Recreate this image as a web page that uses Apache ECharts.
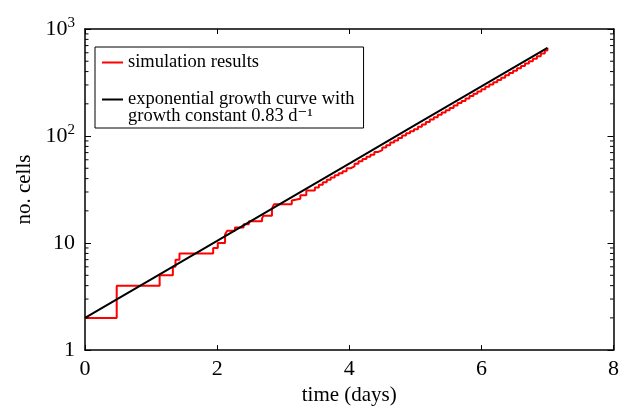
<!DOCTYPE html>
<html>
<head>
<meta charset="utf-8">
<script src="https://cdn.jsdelivr.net/npm/echarts@6/dist/echarts.min.js"></script>
<style>
  html, body { margin: 0; padding: 0; background: #fff; }
  #main { width: 622px; height: 411px; }
</style>
</head>
<body>
<div id="main"></div>
<script>
// 模拟结果：每次跳变的时间（天）与细胞数
var simTime = [0, 0.48, 1.13, 1.33, 1.37, 1.43, 1.94, 2.01, 2.12, 2.15, 2.27, 2.40, 2.48, 2.68, 2.70, 2.83, 2.86,
    3.13, 3.16, 3.26, 3.35, 3.48, 3.54,
    3.60, 3.66, 3.72, 3.78, 3.84, 3.90, 3.96, 4.02, 4.08, 4.14, 4.20, 4.26, 4.32, 4.38, 4.44, 4.50,
    4.56, 4.62, 4.68, 4.74, 4.80, 4.86, 4.92, 4.98, 5.04, 5.10, 5.16, 5.22, 5.28, 5.34, 5.40, 5.46,
    5.52, 5.58, 5.64, 5.70, 5.76, 5.82, 5.88, 5.94, 6.00, 6.06, 6.12, 6.18, 6.24, 6.30, 6.36, 6.42,
    6.48, 6.54, 6.60, 6.66, 6.72, 6.78, 6.84, 6.90, 6.96, 7.00];
var simCells = [2, 4, 5, 6, 7, 8, 9, 10, 12, 13, 14, 15, 16, 17, 18, 21, 23,
    25, 26, 28, 31, 33, 35,
    37, 39, 41, 43, 45, 47, 50, 52, 55, 58, 61, 64, 67, 71, 74, 78,
    82, 87, 91, 96, 101, 106, 111, 116, 122, 128, 135, 143, 150, 158, 166, 174,
    183, 193, 203, 213, 224, 236, 248, 261, 274, 288, 303, 318, 334, 351, 369, 388,
    408, 430, 452, 475, 500, 527, 556, 590, 630, 667];
// 指数曲线（从图上读取的点）
var expTime = [0, 1, 2, 3, 4, 5, 6, 7];
var expCells = [2, 4.59, 10.5, 24.1, 55.3, 127, 291, 667];
// 对数轴次刻度
var minorTicks = [2, 3, 4, 5, 6, 7, 8, 9, 20, 30, 40, 50, 60, 70, 80, 90, 200, 300, 400, 500, 600, 700, 800, 900];

var serif = '"Liberation Serif", "DejaVu Serif", serif';

function zip(a, b) {
    var out = [];
    for (var i = 0; i < a.length; i++) out.push([a[i], b[i]]);
    return out;
}

var myChart = echarts.init(document.getElementById('main'));

var axisCommon = {
    axisLine: { show: true, onZero: false, lineStyle: { color: '#000', width: 1.5 } },
    axisTick: { show: true, inside: true, length: 5, lineStyle: { color: '#000', width: 1 } },
    splitLine: { show: false }
};

var option = {
    backgroundColor: '#fff',
    animation: false,
    grid: { left: 85, right: 7, top: 29, bottom: 60 },
    legend: {
        orient: 'vertical',
        left: 95,
        top: 47,
        padding: [6, 9, 2, 7],
        itemGap: 1,
        itemWidth: 21,
        itemHeight: 2,
        icon: 'rect',
        borderColor: '#000',
        borderWidth: 1,
        borderRadius: 0,
        backgroundColor: '#fff',
        textStyle: { fontFamily: serif, fontSize: 18.5, color: '#000', lineHeight: 17 },
        data: [
            { name: 'simulation results' },
            { name: 'exp' }
        ],
        formatter: function (name) {
            // 空的第一行让图例线条对齐到第一行文字
            if (name === 'exp') return '\nexponential growth curve with\ngrowth constant 0.83 d\u207B\u00B9';
            return name;
        }
    },
    xAxis: [
        Object.assign({}, axisCommon, {
            type: 'value', min: 0, max: 8, interval: 2, position: 'bottom',
            name: 'time (days)', nameLocation: 'middle', nameGap: 33,
            nameTextStyle: { fontFamily: serif, fontSize: 21, color: '#000' },
            axisLabel: { fontFamily: serif, fontSize: 22, color: '#000', margin: 8 }
        }),
        Object.assign({}, axisCommon, {
            type: 'value', min: 0, max: 8, interval: 2, position: 'top',
            axisLabel: { show: false }
        })
    ],
    yAxis: [
        Object.assign({}, axisCommon, {
            type: 'log', logBase: 10, min: 1, max: 1000, position: 'left',
            name: 'no. cells', nameLocation: 'middle', nameGap: 45,
            nameTextStyle: { fontFamily: serif, fontSize: 21, color: '#000' },
            axisTick: { show: true, inside: true, length: 6, lineStyle: { color: '#000', width: 1 } },
            axisLabel: {
                fontFamily: serif, fontSize: 22, color: '#000', margin: 10,
                formatter: function (v) {
                    if (v >= 100) return '10{s|' + Math.round(Math.log10(v)) + '}';
                    return String(Math.round(v));
                },
                rich: {
                    s: { fontFamily: serif, fontSize: 15, color: '#000', verticalAlign: 'top', padding: [0, 0, 12, 0] }
                }
            }
        }),
        Object.assign({}, axisCommon, {
            type: 'log', logBase: 10, min: 1, max: 1000, position: 'right',
            axisTick: { show: true, inside: true, length: 6, lineStyle: { color: '#000', width: 1 } },
            axisLabel: { show: false }
        })
    ],
    series: [
        {
            name: 'simulation results',
            type: 'line',
            step: 'end',
            data: zip(simTime, simCells),
            symbol: 'none',
            lineStyle: { color: '#ff0000', width: 2 },
            itemStyle: { color: '#ff0000' },
            z: 3
        },
        {
            name: 'exp',
            type: 'line',
            data: zip(expTime, expCells),
            symbol: 'none',
            lineStyle: { color: '#000', width: 2 },
            itemStyle: { color: '#000' },
            z: 4
        },
        {
            // 对数轴次刻度（左右两侧）
            type: 'custom',
            data: minorTicks.map(function (v) { return [0, v]; }),
            silent: true,
            renderItem: function (params, api) {
                var cs = params.coordSys;
                var y = api.coord([0, api.value(1)])[1];
                var style = { stroke: '#000', lineWidth: 1 };
                return {
                    type: 'group',
                    children: [
                        { type: 'line', shape: { x1: cs.x, y1: y, x2: cs.x + 3.5, y2: y }, style: style },
                        { type: 'line', shape: { x1: cs.x + cs.width - 3.5, y1: y, x2: cs.x + cs.width, y2: y }, style: style }
                    ]
                };
            },
            z: 5
        }
    ]
};

myChart.setOption(option);
</script>
</body>
</html>
